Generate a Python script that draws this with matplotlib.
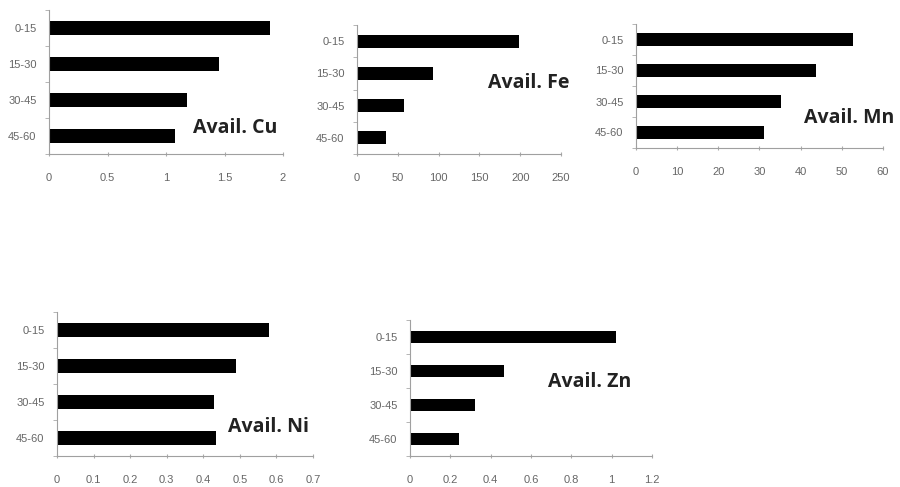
import matplotlib
matplotlib.use("Agg")
import matplotlib.pyplot as plt
import numpy as np

depths = ["0-15", "15-30", "30-45", "45-60"]

cu = [1.89, 1.45, 1.18, 1.08]
fe = [199, 93, 58, 35]
mn = [52.7, 43.7, 35.2, 31.1]
ni = [0.58, 0.49, 0.43, 0.435]
zn = [1.02, 0.466, 0.322, 0.243]

cu_ticks = [0, 0.5, 1, 1.5, 2]
fe_ticks = [0, 50, 100, 150, 200, 250]
mn_ticks = [0, 10, 20, 30, 40, 50, 60]
ni_ticks = [0, 0.1, 0.2, 0.3, 0.4, 0.5, 0.6, 0.7]
zn_ticks = [0, 0.2, 0.4, 0.6, 0.8, 1, 1.2]

W, H = 900, 487
fig = plt.figure(figsize=(9, 4.87), dpi=100)
plt.rcParams['font.family'] = ['Liberation Sans', 'DejaVu Sans']


def make_ax(left, right, top, bottom):
    return fig.add_axes([left / W, (H - bottom) / H, (right - left) / W, (bottom - top) / H])


# name, values, ticks, box (px), label pos (axes fraction), bar height
panels = [
    ("Avail. Cu", cu, cu_ticks, (49, 283, 10, 154), (0.795, 0.18), 0.37),
    ("Avail. Fe", fe, fe_ticks, (357, 561, 25, 154), (0.84, 0.55), 0.40),
    ("Avail. Mn", mn, mn_ticks, (636, 883, 24, 148), (0.862, 0.24), 0.42),
    ("Avail. Ni", ni, ni_ticks, (57, 313, 312, 456), (0.824, 0.20), 0.38),
    ("Avail. Zn", zn, zn_ticks, (410, 652, 320, 456), (0.744, 0.544), 0.38),
]

for name, vals, ticks, box, txt, bh in panels:
    ax = make_ax(*box)
    y = np.arange(len(depths))
    ax.barh(y, vals, height=bh, color="black")
    ax.set_ylim(len(depths) - 0.5, -0.5)
    ax.set_xlim(ticks[0], ticks[-1])
    ax.set_xticks(ticks)
    ax.set_xticklabels([f"{t:g}" for t in ticks])
    ax.set_yticks(y)
    ax.set_yticklabels(depths)
    ax.set_yticks(np.arange(-0.5, len(depths), 1), minor=True)
    ax.tick_params(axis="y", which="major", length=0, pad=9, labelsize=8, labelcolor="#666666")
    ax.tick_params(axis="y", which="minor", length=3, color="#aaaaaa")
    ax.tick_params(axis="x", length=3, direction="inout", pad=12, labelsize=8,
                   labelcolor="#666666", color="#aaaaaa")
    for s in ["top", "right"]:
        ax.spines[s].set_visible(False)
    for s in ["left", "bottom"]:
        ax.spines[s].set_color("#a0a0a0")
        ax.spines[s].set_linewidth(0.8)
    ax.text(txt[0], txt[1], name, transform=ax.transAxes, ha="center", va="center",
            fontsize=14, fontweight="bold", color="#222222", family=["Open Sans", "DejaVu Sans"])

fig.savefig("out.png", dpi=100)
